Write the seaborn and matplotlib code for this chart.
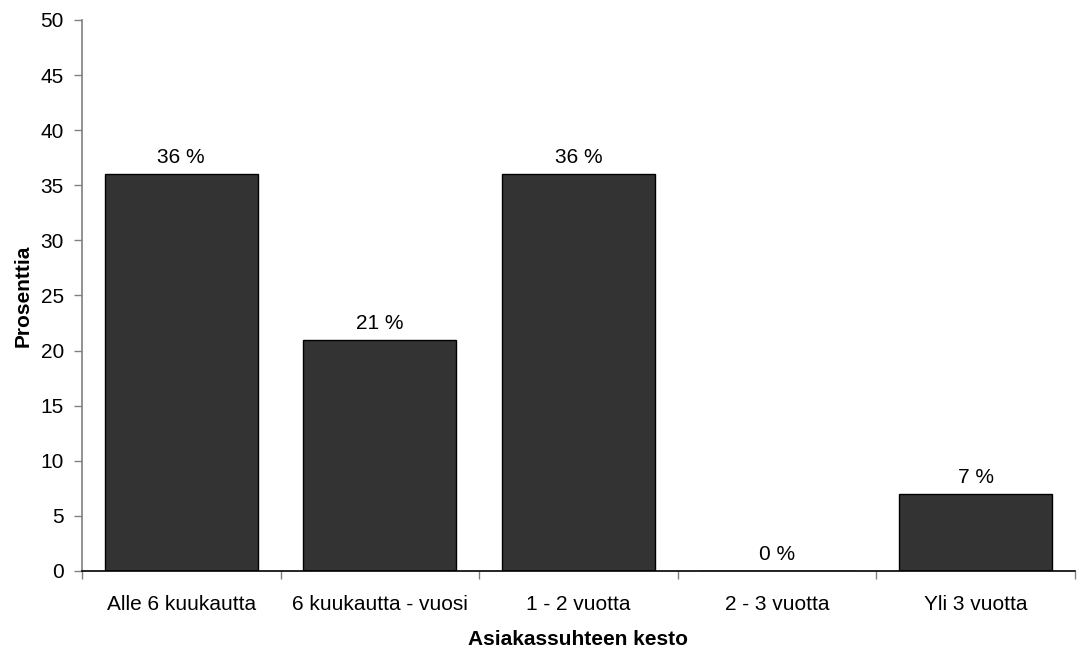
import matplotlib
matplotlib.use("Agg")
import matplotlib.pyplot as plt
import seaborn as sns
import pandas as pd
import numpy as np

categories = ["Alle 6 kuukautta", "6 kuukautta - vuosi", "1 - 2 vuotta", "2 - 3 vuotta", "Yli 3 vuotta"]
values = [36, 21, 36, 0, 7]
yticks = [0, 5, 10, 15, 20, 25, 30, 35, 40, 45, 50]

sns.set_theme(style="white")
plt.rcParams["font.family"] = ["Liberation Sans", "DejaVu Sans"]
plt.rcParams["text.color"] = "black"
plt.rcParams["axes.labelcolor"] = "black"
plt.rcParams["xtick.color"] = "black"
plt.rcParams["ytick.color"] = "black"

FS = 15

df = pd.DataFrame({"kesto": categories, "prosentti": values})

fig = plt.figure(figsize=(10.77, 6.49), dpi=100)
ax = fig.add_axes([0.0761, 0.1202, 0.9220, 0.8490])

sns.barplot(data=df, x="kesto", y="prosentti", order=categories,
            color="#333333", edgecolor="black", linewidth=1.0,
            width=0.77, saturation=1, ax=ax)

ax.set_xlim(-0.5, len(categories) - 0.5)
ax.set_ylim(0, 50)
ax.set_yticks(yticks)
ax.set_yticklabels([str(t) for t in yticks], fontsize=FS)

# category labels centred, ticks at the boundaries between categories
ax.set_xticks(np.arange(len(categories)))
ax.set_xticklabels(categories, fontsize=FS)
ax.set_xticks(np.arange(len(categories) + 1) - 0.5, minor=True)
ax.tick_params(axis="x", which="major", length=0, pad=17)
ax.tick_params(axis="x", which="minor", length=6, width=1, color="#808080",
               direction="out", bottom=True)
ax.tick_params(axis="y", which="major", length=6, width=1, color="#808080",
               labelcolor="black", direction="out", pad=7, left=True)

for s in ["top", "right"]:
    ax.spines[s].set_visible(False)
ax.spines["left"].set_color("#808080")
ax.spines["left"].set_linewidth(1.2)
ax.spines["bottom"].set_color("black")
ax.spines["bottom"].set_linewidth(1.2)

ax.set_xlabel("Asiakassuhteen kesto", fontsize=FS, fontweight="bold", labelpad=12)
ax.set_ylabel("Prosenttia", fontsize=FS, fontweight="bold", labelpad=6)

for i, v in enumerate(values):
    ax.annotate(f"{v} %", (i, v), xytext=(0, 5), textcoords="offset points",
                ha="center", va="bottom", fontsize=FS)

fig.savefig("out.png", dpi=100, facecolor="white")
